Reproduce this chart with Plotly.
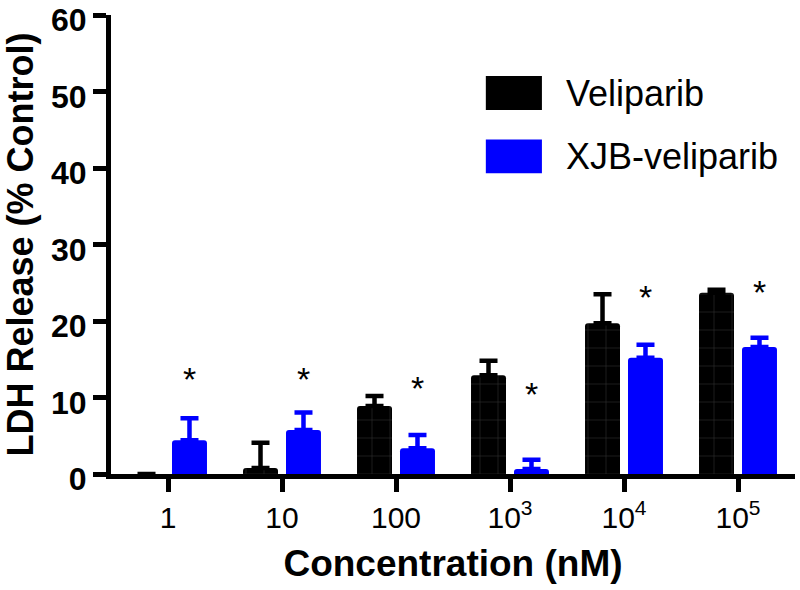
import plotly.graph_objects as go

# data
conc = ["1", "10", "100", "10<sup>3</sup>", "10<sup>4</sup>", "10<sup>5</sup>"]
veliparib = [0, 0.8, 8.9, 12.9, 19.7, 23.7]
veliparib_err = [0, 3.3, 1.3, 1.9, 3.8, 0.4]
xjb = [4.4, 5.75, 3.35, 0.65, 15.2, 16.6]
xjb_err = [2.9, 2.3, 1.75, 1.2, 1.7, 1.2]
star_y = [12.4, 12.4, 11.2, 10.5, 23.1, 23.8]

font = "Liberation Sans, Arial, sans-serif"

fig = go.Figure()

fig.add_trace(go.Bar(
    x=conc, y=veliparib, name="Veliparib",
    marker=dict(color="black", line=dict(width=0),
                pattern=dict(shape="+", fgcolor="#777777", size=18, solidity=0.05)),
    error_y=dict(type="data", array=veliparib_err, arrayminus=[0] * 6,
                 symmetric=False, color="black", thickness=4.5, width=9),
))
fig.add_trace(go.Bar(
    x=conc, y=xjb, name="XJB-veliparib",
    marker=dict(color="#0000ff", line=dict(width=0)),
    error_y=dict(type="data", array=xjb_err, arrayminus=[0] * 6,
                 symmetric=False, color="#0000ff", thickness=4.5, width=9),
))

# significance stars above the XJB bars (x by category index)
for i, s in enumerate(star_y):
    fig.add_annotation(x=i, y=s, text="*", showarrow=False, xshift=21.5,
                       yanchor="middle", font=dict(family=font, size=34, color="black"))

# hand drawn legend with big swatches
legend_items = [("Veliparib", "black", 0.830), ("XJB-veliparib", "#0000ff", 0.692)]
for label, col, yy in legend_items:
    fig.add_shape(type="rect", xref="paper", yref="paper",
                  x0=0.548, x1=0.630, y0=yy - 0.037, y1=yy + 0.037,
                  fillcolor=col, line=dict(width=0))
    fig.add_annotation(xref="paper", yref="paper", x=0.662, y=yy, text=label,
                       showarrow=False, xanchor="left", yanchor="middle",
                       font=dict(family=font, size=36, color="black"))

fig.update_layout(
    width=800, height=590,
    margin=dict(l=111, r=5, t=15, b=116),
    plot_bgcolor="white", paper_bgcolor="white",
    barmode="group", bargap=0.246, bargroupgap=0.186,
    barcornerradius=3,
    showlegend=False,
    font=dict(family=font, color="black"),
)
fig.update_xaxes(
    range=[-0.5, 5.5], showline=True, linecolor="black", linewidth=5,
    ticks="outside", ticklen=13, tickwidth=5, tickcolor="black",
    tickfont=dict(family=font, size=30),
    tickvals=conc, ticktext=conc,
    title=dict(text="<b>Concentration (nM)</b>", font=dict(family=font, size=37), standoff=19),
    showgrid=False, zeroline=False, automargin=False,
)
fig.update_yaxes(
    range=[0, 60], tickvals=[0, 10, 20, 30, 40, 50, 60],
    ticktext=["<b>%d</b>" % v for v in [0, 10, 20, 30, 40, 50, 60]],
    showline=True, linecolor="black", linewidth=5,
    ticks="outside", ticklen=13, tickwidth=5, tickcolor="black",
    tickfont=dict(family=font, size=32), ticklabeloverflow="allow",
    ticklabelshift=5,
    title=dict(text="<b>LDH Release (% Control)</b>", font=dict(family=font, size=36), standoff=29),
    showgrid=False, zeroline=False, automargin=False,
)

# drop the page's default body margin so the figure sits at the window corner
fig.write_html("out.html", config={"displayModeBar": False},
               post_script="document.body.style.margin='0';")
